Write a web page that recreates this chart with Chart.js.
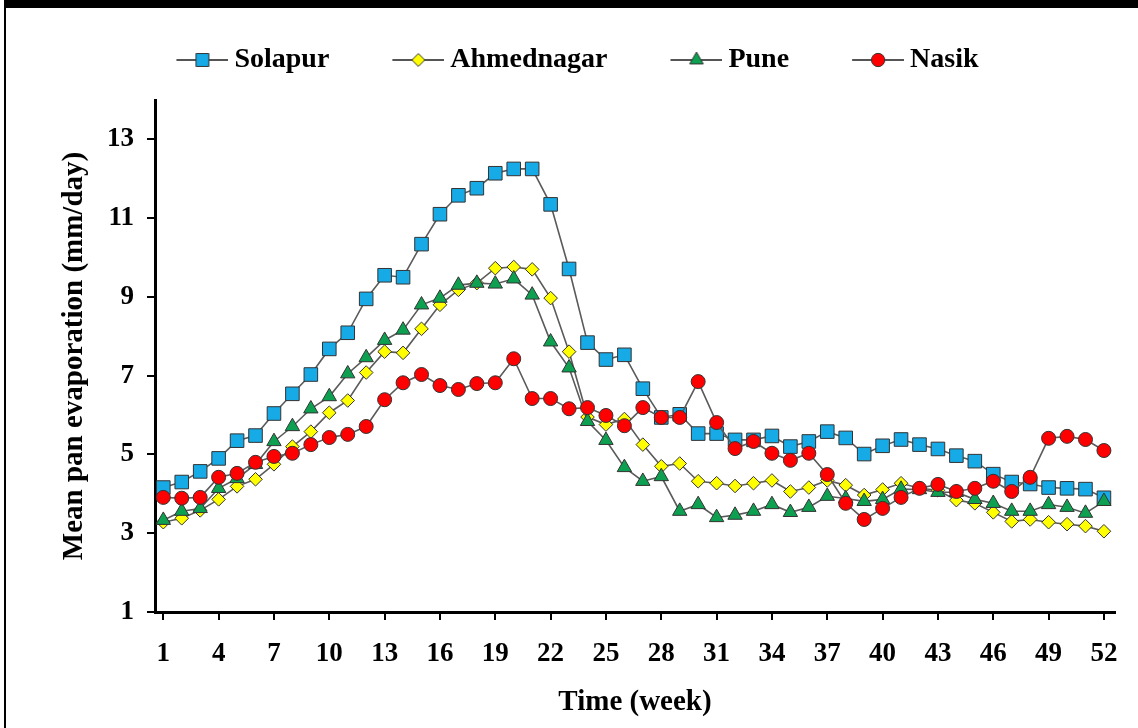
<!DOCTYPE html>
<html lang="en">
<head>
  <meta charset="UTF-8">
  <title>Mean pan evaporation</title>
  <script src="https://cdn.jsdelivr.net/npm/chart.js@4"></script>
  <style>
    body {
      margin: 0;
      background: #ffffff;
    }
    .lienzo {
      position: absolute;
      left: 0;
      top: 0;
    }
    .marco {
      position: absolute;
      left: 4px;
      top: 0;
      width: 1200px;
      height: 800px;
      border-top: 8px solid #000;
      border-left: 2px solid #000;
      box-sizing: border-box;
      pointer-events: none;
    }
  </style>
</head>
<body>
  <canvas id="grafico" class="lienzo" width="1138" height="728"></canvas>
  <div class="marco"></div>

  <script>
    // semanas y valores (mm/day)
    const weeks = [1,2,3,4,5,6,7,8,9,10,11,12,13,14,15,16,17,18,19,20,21,22,23,24,25,26,
                   27,28,29,30,31,32,33,34,35,36,37,38,39,40,41,42,43,44,45,46,47,48,49,50,51,52];
    const weekTicks = [1,4,7,10,13,16,19,22,25,28,31,34,37,40,43,46,49,52];
    const yTicks = [1,3,5,7,9,11,13];

    const solapur = [4.16,4.30,4.57,4.90,5.35,5.48,6.04,6.54,7.03,7.68,8.09,8.95,9.55,9.50,10.34,11.10,
                     11.58,11.76,12.14,12.25,12.25,11.35,9.71,7.84,7.41,7.53,6.67,5.94,6.02,5.53,5.53,5.37,
                     5.37,5.47,5.20,5.33,5.58,5.42,5.01,5.22,5.38,5.25,5.14,4.97,4.83,4.50,4.30,4.25,4.16,
                     4.14,4.12,3.90];
    const ahmednagar = [3.28,3.38,3.58,3.86,4.19,4.37,4.75,5.20,5.58,6.06,6.37,7.08,7.61,7.58,8.19,8.80,
                        9.18,9.35,9.73,9.76,9.70,8.97,7.61,5.95,5.76,5.90,5.25,4.70,4.77,4.32,4.27,4.20,
                        4.27,4.34,4.06,4.16,4.34,4.22,3.97,4.11,4.27,4.14,4.09,3.84,3.76,3.53,3.30,3.35,
                        3.28,3.23,3.18,3.05];
    const pune = [3.33,3.56,3.63,4.14,4.39,4.75,5.33,5.71,6.16,6.47,7.05,7.46,7.90,8.16,8.80,8.97,
                  9.30,9.35,9.33,9.46,9.05,7.86,7.20,5.84,5.36,4.67,4.32,4.44,3.56,3.73,3.40,3.46,
                  3.56,3.73,3.53,3.66,3.94,3.88,3.81,3.86,4.12,4.11,4.04,4.04,3.86,3.76,3.56,3.56,
                  3.73,3.66,3.51,3.81];
    const nasik = [3.91,3.89,3.91,4.42,4.52,4.80,4.95,5.03,5.25,5.43,5.51,5.71,6.39,6.82,7.03,6.75,
                   6.65,6.80,6.82,7.43,6.42,6.42,6.16,6.19,5.99,5.73,6.19,5.94,5.94,6.85,5.81,5.15,
                   5.33,5.03,4.85,5.03,4.49,3.76,3.35,3.63,3.91,4.14,4.24,4.06,4.14,4.32,4.06,4.42,
                   5.41,5.46,5.38,5.10];

    const nombres = ['Solapur', 'Ahmednagar', 'Pune', 'Nasik'];
    const series = [solapur, ahmednagar, pune, nasik];
    const colores = ['#16aae6', '#ffff00', '#0ca050', '#ff0000'];
    const estilos = ['rect', 'rectRot', 'triangle', 'circle'];
    const radios = [9.6, 6.8, 8.3, 7];
    const orden = [4, 3, 2, 1];   // Nasik encima

    const serif = "'Liberation Serif', 'Times New Roman', serif";

    // icono de leyenda: linea + marcador
    function iconoLeyenda(i) {
      const c = document.createElement('canvas');
      c.width = 100;
      c.height = 22;
      const g = c.getContext('2d');
      g.strokeStyle = '#555';
      g.lineWidth = 2;
      g.beginPath();
      g.moveTo(48, 11);
      g.lineTo(100, 11);
      g.stroke();
      g.fillStyle = colores[i];
      g.strokeStyle = '#333';
      g.lineWidth = 1;
      Chart.helpers.drawPoint(g, {pointStyle: estilos[i], radius: radios[i] * 0.95, rotation: 0, borderWidth: 1}, 74, 11);
      return c;
    }
    const iconos = nombres.map((n, i) => iconoLeyenda(i));

    const datasets = nombres.map((n, i) => ({
      label: n,
      data: weeks.map((w, k) => ({x: w, y: series[i][k]})),
      borderColor: '#5a5a5a',
      borderWidth: 1.6,
      pointStyle: estilos[i],
      pointRadius: radios[i],
      pointBackgroundColor: colores[i],
      pointBorderColor: '#333',
      pointBorderWidth: 1,
      tension: 0,
      order: orden[i]
    }));

    // separa la leyenda del area del grafico
    const margenLeyenda = {
      id: 'margenLeyenda',
      beforeLayout(chart) {
        const lg = chart.legend;
        if (lg && !lg._conMargen) {
          const fitOrig = lg.fit;
          lg.fit = function () { fitOrig.call(this); this.height += 16; };
          lg._conMargen = true;
        }
      }
    };

    new Chart(document.getElementById('grafico').getContext('2d'), {
      type: 'line',
      data: { datasets: datasets },
      plugins: [margenLeyenda],
      options: {
        responsive: false,
        animation: false,
        layout: { padding: { top: 23, right: 23, bottom: 0, left: 0 } },
        plugins: {
          tooltip: { enabled: false },
          legend: {
            position: 'top',
            labels: {
              usePointStyle: true,
              pointStyleWidth: 84,
              padding: 23,
              color: '#000',
              font: { family: serif, size: 28, weight: 'bold' },
              sort: (a, b) => a.datasetIndex - b.datasetIndex,
              generateLabels(chart) {
                const items = Chart.defaults.plugins.legend.labels.generateLabels(chart);
                items.forEach(it => { it.pointStyle = iconos[it.datasetIndex]; it.rotation = 0; });
                return items;
              }
            }
          }
        },
        scales: {
          x: {
            type: 'linear',
            min: 0.55,
            max: 52.6,
            afterBuildTicks: s => { s.ticks = weekTicks.map(v => ({value: v})); },
            afterFit: s => { s.height = 116; },
            grid: { drawOnChartArea: false, drawTicks: true, tickLength: 8, color: '#000', lineWidth: 2 },
            border: { display: true, color: '#000', width: 3 },
            ticks: {
              color: '#000',
              padding: 18,
              maxRotation: 0,
              autoSkip: false,
              font: { family: serif, size: 27, weight: 'bold' }
            },
            title: {
              display: true,
              text: 'Time (week)',
              color: '#000',
              padding: { top: 0, bottom: 8 },
              font: { family: serif, size: 29, weight: 'bold' }
            }
          },
          y: {
            min: 1,
            max: 14,
            afterBuildTicks: s => { s.ticks = yTicks.map(v => ({value: v})); },
            afterFit: s => { s.width = 155; },
            grid: { drawOnChartArea: false, drawTicks: true, tickLength: 8, color: '#000', lineWidth: 2 },
            border: { display: true, color: '#000', width: 3 },
            ticks: {
              color: '#000',
              padding: 13,
              font: { family: serif, size: 27, weight: 'bold' }
            },
            title: {
              display: true,
              text: 'Mean pan evaporation (mm/day)',
              color: '#000',
              padding: { top: 57, bottom: 0 },
              font: { family: serif, size: 29, weight: 'bold' }
            }
          }
        }
      }
    });
  </script>
</body>
</html>
